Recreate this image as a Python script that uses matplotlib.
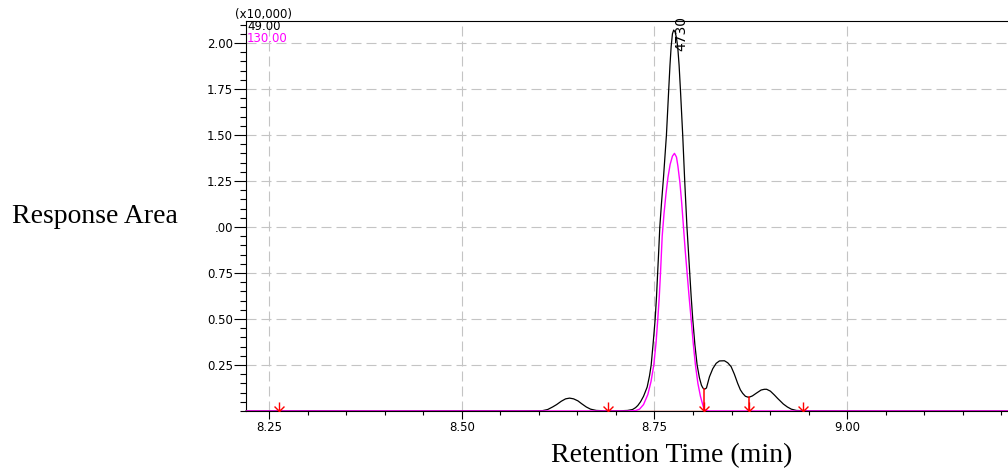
import matplotlib
matplotlib.use("Agg")
import matplotlib.pyplot as plt
from matplotlib.path import Path
from matplotlib.ticker import MultipleLocator

# ---------------- data ----------------
black_t = [8.2202, 8.30, 8.40, 8.50, 8.58, 8.6049, 8.6114, 8.6179, 8.6231, 8.6291,
           8.6347, 8.6399, 8.6451, 8.6507, 8.6554, 8.6615, 8.6671, 8.6745, 8.6852, 8.7047,
           8.7150, 8.7215, 8.7254, 8.7284, 8.7319, 8.7358, 8.7405, 8.7435, 8.7457, 8.7483,
           8.7509, 8.7526, 8.7541, 8.7556, 8.7569, 8.7591, 8.7617, 8.7655, 8.7685, 8.7701,
           8.7716, 8.7733, 8.7749, 8.7767, 8.7784, 8.7801, 8.7819, 8.7836, 8.7866, 8.7892,
           8.7921, 8.7940, 8.7957, 8.7976, 8.7996, 8.8024, 8.8053, 8.8083, 8.8109, 8.8128,
           8.8148, 8.8174, 8.8213, 8.8256, 8.8300, 8.8342, 8.8407, 8.8450, 8.8494, 8.8536,
           8.8579, 8.8614, 8.8644, 8.8679, 8.8722, 8.8770, 8.8818, 8.8883, 8.8925, 8.8955,
           8.9003, 8.9055, 8.9098, 8.9142, 8.9171, 8.9223, 8.9275, 8.9339, 8.9443, 9.05,
           9.2085]
black_y = [0.000, 0.001, 0.000, 0.001, 0.001, 0.002, 0.008, 0.022, 0.035, 0.053,
           0.066, 0.070, 0.066, 0.055, 0.040, 0.022, 0.010, 0.003, 0.001, 0.001,
           0.003, 0.008, 0.018, 0.030, 0.050, 0.080, 0.13, 0.19, 0.25, 0.37,
           0.50, 0.62, 0.75, 0.88, 1.00, 1.13, 1.27, 1.50, 1.75, 1.88,
           1.98, 2.05, 2.07, 2.06, 2.03, 1.98, 1.88, 1.75, 1.50, 1.25,
           1.00, 0.87, 0.75, 0.62, 0.50, 0.36, 0.25, 0.18, 0.14, 0.125,
           0.118, 0.125, 0.186, 0.23, 0.259, 0.272, 0.273, 0.262, 0.241, 0.20,
           0.15, 0.115, 0.096, 0.08, 0.074, 0.082, 0.096, 0.114, 0.118, 0.118,
           0.108, 0.087, 0.068, 0.05, 0.038, 0.022, 0.010, 0.003, 0.001, 0.000,
           0.000]

mag_t = [8.2202, 8.50, 8.7150, 8.7254, 8.7306, 8.7358, 8.7414, 8.7455, 8.7491, 8.7520,
         8.7543, 8.7562, 8.7578, 8.7600, 8.7623, 8.7649, 8.7675, 8.7703, 8.7733, 8.7759,
         8.7785, 8.7804, 8.7830, 8.7853, 8.7876, 8.7899, 8.7923, 8.7949, 8.7975, 8.8002,
         8.8031, 8.8063, 8.8096, 8.8122, 8.8141, 8.8161, 8.8213, 9.2085]
mag_y = [0, 0, 0, 0.002, 0.01, 0.035, 0.09, 0.16, 0.25, 0.37,
         0.50, 0.62, 0.75, 0.95, 1.07, 1.18, 1.27, 1.34, 1.385, 1.40,
         1.38, 1.33, 1.24, 1.13, 1.00, 0.87, 0.75, 0.62, 0.50, 0.37,
         0.25, 0.15, 0.08, 0.04, 0.012, 0.003, 0, 0]

mark_t = [8.2632, 8.6893, 8.8148, 8.8722, 8.9425]
drop_t = [8.8148, 8.8722]
drop_y = [0.118, 0.074]

xticks = [8.25, 8.50, 8.75, 9.00]
xtick_labels = ["8.25", "8.50", "8.75", "9.00"]
yticks = [0.25, 0.50, 0.75, 1.00, 1.25, 1.50, 1.75, 2.00]
ytick_labels = ["0.25", "0.50", "0.75", ".00", "1.25", "1.50", "1.75", "2.00"]

apex_label = "4730"
apex_t, apex_y = 8.7844, 2.049

# ---------------- figure ----------------
W, H = 1008, 475
fig = plt.figure(figsize=(W / 100, H / 100), dpi=100)
ax = fig.add_axes([246 / W, 1 - 411 / H, 1 - 246 / W, (411 - 20.5) / H])

ax.set_xlim(8.2202, 9.2085)
ax.set_ylim(0, 2.122)

# grid
ax.set_xticks(xticks)
ax.set_xticklabels(xtick_labels)
ax.set_yticks(yticks)
ax.set_yticklabels(ytick_labels)
ax.xaxis.set_minor_locator(MultipleLocator(0.05))
ax.yaxis.set_minor_locator(MultipleLocator(0.05))
ax.grid(True, which="major", color="#c4c4c4", lw=0.8, ls=(0, (9, 4.5)), zorder=0)
ax.set_axisbelow(True)

# baseline
ax.plot([8.2202, 9.2085], [0, 0], color="#cc0000", lw=1.0, zorder=2)

# traces
ax.plot(black_t, black_y, color="black", lw=0.9, zorder=3, clip_on=False)
ax.plot(mag_t, mag_y, color="#ff00ff", lw=1.0, zorder=4)

# drop lines and peak markers
for t, y in zip(drop_t, drop_y):
    ax.plot([t, t], [0, y], color="#ff0000", lw=1.1, zorder=5)

arrow = Path([(0, 0), (0, 1), (0, 0), (-0.55, 0.55), (0, 0), (0.55, 0.55)],
             [Path.MOVETO, Path.LINETO, Path.MOVETO, Path.LINETO, Path.MOVETO, Path.LINETO])
ax.plot(mark_t, [0] * len(mark_t), ls="none", marker=arrow, ms=13,
        mec="#ff0000", mfc="none", mew=1.0, zorder=6, clip_on=False)

# spines / ticks
for s in ("left", "bottom", "top"):
    ax.spines[s].set_linewidth(0.8)
    ax.spines[s].set_color("black")
ax.spines["right"].set_visible(False)

tick_font = "DejaVu Sans"
ax.tick_params(axis="x", which="major", direction="out", length=6, width=0.8, pad=1.5,
               labelsize=8.5, labelfontfamily=tick_font)
ax.tick_params(axis="x", which="minor", direction="out", length=3, width=0.8)
ax.tick_params(axis="y", which="major", direction="out", length=8.5, width=0.8, pad=1,
               labelsize=8.5, labelfontfamily=tick_font)
ax.tick_params(axis="y", which="minor", direction="out", length=4, width=0.8)
ax.tick_params(top=False, right=False)

# texts
fig.text(235 / W, 1 - 18 / H, "(x10,000)", fontsize=8.5, family=tick_font,
         ha="left", va="baseline")
fig.text(247 / W, 1 - 30 / H, "49.00", fontsize=8.5, family=tick_font, color="black",
         ha="left", va="baseline")
fig.text(247 / W, 1 - 42 / H, "130.00", fontsize=8.5, family=tick_font, color="#ff00ff",
         ha="left", va="baseline")
ax.text(apex_t, apex_y, apex_label, rotation=90, fontsize=10, family=tick_font,
        ha="center", va="center", clip_on=False, zorder=7)

fig.text(12 / W, 1 - 223 / H, "Response Area", fontsize=20, family="Liberation Serif",
         ha="left", va="baseline")
fig.text(792 / W, 1 - 462 / H, "Retention Time (min)", fontsize=20,
         family="Liberation Serif", ha="right", va="baseline")

fig.savefig("out.png", dpi=100)
